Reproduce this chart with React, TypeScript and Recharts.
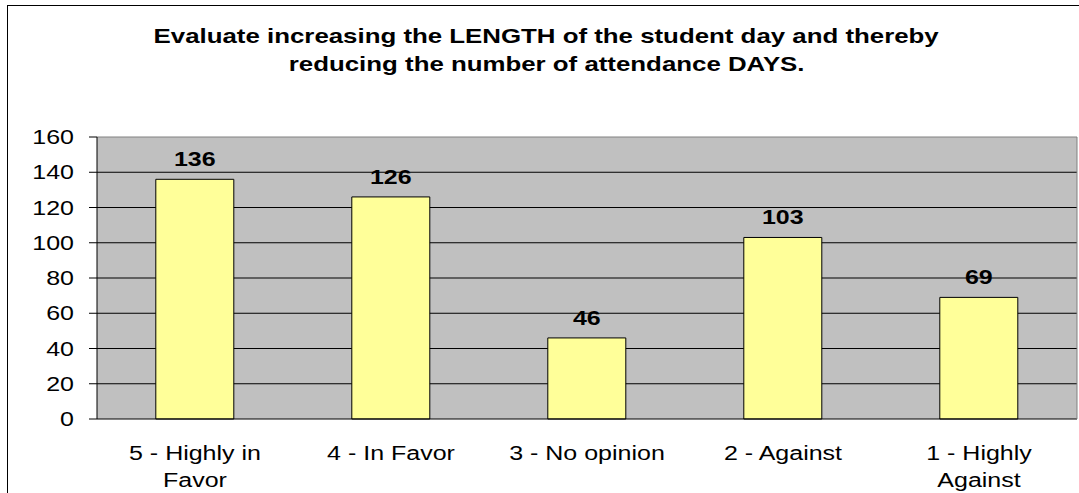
import React from 'react';
import { BarChart, Bar, XAxis, YAxis, CartesianGrid, LabelList } from 'recharts';

const categories = ['5 - Highly in Favor', '4 - In Favor', '3 - No opinion', '2 - Against', '1 - Highly Against'];
const tickLines = [['5 - Highly in', 'Favor'], ['4 - In Favor'], ['3 - No opinion'], ['2 - Against'], ['1 - Highly', 'Against']];
const responses = [136, 126, 46, 103, 69];
const yTicks = [0, 20, 40, 60, 80, 100, 120, 140, 160];
const gridValues = [20, 40, 60, 80, 100, 120, 140];
const edgeTicks = [0, 1, 2, 3, 4, 5];
const titleLines = [
  'Evaluate increasing the LENGTH of the student day and thereby',
  'reducing the number of attendance DAYS.',
];

const data = categories.map((name, i) => ({ name, value: responses[i] }));

const FONT = 'Arial, "Liberation Sans", sans-serif';
const STRETCH = 1.25;

const YTick = (props: any) => {
  const { x, y, payload } = props;
  return (
    <text
      transform={`translate(${x},${y}) scale(${STRETCH},1)`}
      textAnchor="end"
      dy="0.36em"
      fontFamily={FONT}
      fontSize={20}
      fill="#000"
    >
      {payload.value}
    </text>
  );
};

const XTick = (props: any) => {
  const { x, y, index } = props;
  const lines = tickLines[index] || [];
  return (
    <g>
      {lines.map((line, i) => (
        <text
          key={i}
          transform={`translate(${x},${y + 40 + i * 27}) scale(${STRETCH},1)`}
          textAnchor="middle"
          fontFamily={FONT}
          fontSize={20}
          fill="#000"
        >
          {line}
        </text>
      ))}
    </g>
  );
};

const ValueLabel = (props: any) => {
  const { x, y, width, value } = props;
  return (
    <text
      transform={`translate(${x + width / 2},${y - 13}) scale(1.19,1)`}
      textAnchor="middle"
      fontFamily={FONT}
      fontSize={21}
      fontWeight="bold"
      fill="#000"
    >
      {value}
    </text>
  );
};

export default function App() {
  return (
    <div style={{ position: 'absolute', left: 0, top: 0, width: 1079, height: 493, overflow: 'hidden', background: '#fff' }}>
      {/* chart frame: only left and top edges fall inside the picture */}
      <div style={{ position: 'absolute', left: 7, top: 5, width: 1200, height: 600, borderLeft: '1px solid #000', borderTop: '1px solid #000' }} />
      <div style={{ position: 'absolute', left: 0, top: 0, width: 1093, textAlign: 'center', fontFamily: FONT, fontWeight: 'bold', fontSize: 21 }}>
        {titleLines.map((line, i) => (
          <div
            key={i}
            style={{ position: 'absolute', left: 0, right: 0, top: 24 + i * 28.4, lineHeight: '24px', whiteSpace: 'nowrap' }}
          >
            <span style={{ display: 'inline-block', transform: 'scale(1.23,1)' }}>{line}</span>
          </div>
        ))}
      </div>
      <div style={{ position: 'absolute', left: 0, top: 0 }}>
        <BarChart
          width={1079}
          height={493}
          data={data}
          margin={{ top: 136, right: 1, left: 0, bottom: 13 }}
          barCategoryGap="30%"
        >
          <CartesianGrid
            fill="#C0C0C0"
            fillOpacity={1}
            stroke="#000"
            vertical={false}
            horizontalValues={gridValues}
            xAxisId="cat"
            yAxisId="left"
          />
          <XAxis
            xAxisId="cat"
            dataKey="name"
            height={60}
            axisLine={false}
            tickLine={false}
            tickSize={0}
            tickMargin={0}
            interval={0}
            tick={<XTick />}
          />
          <XAxis
            xAxisId="axisEdge"
            type="number"
            domain={[0, 5]}
            ticks={edgeTicks}
            tick={false}
            tickSize={7}
            height={1}
            stroke="#000"
            axisLine={{ stroke: '#000' }}
            tickLine={{ stroke: '#000' }}
          />
          <XAxis
            xAxisId="top"
            orientation="top"
            type="number"
            domain={[0, 1]}
            height={1}
            tick={false}
            tickLine={false}
            axisLine={{ stroke: '#808080' }}
          />
          <YAxis
            yAxisId="left"
            width={97}
            domain={[0, 160]}
            ticks={yTicks}
            interval={0}
            tickSize={8}
            tickMargin={15}
            axisLine={{ stroke: '#000' }}
            tickLine={{ stroke: '#000' }}
            tick={<YTick />}
          />
          <YAxis
            yAxisId="right"
            orientation="right"
            type="number"
            domain={[0, 1]}
            width={1}
            tick={false}
            tickLine={false}
            axisLine={{ stroke: '#808080' }}
          />
          <Bar
            dataKey="value"
            xAxisId="cat"
            yAxisId="left"
            fill="#FFFF99"
            stroke="#000"
            strokeWidth={1}
            isAnimationActive={false}
          >
            <LabelList dataKey="value" content={<ValueLabel />} />
          </Bar>
        </BarChart>
      </div>
    </div>
  );
}
